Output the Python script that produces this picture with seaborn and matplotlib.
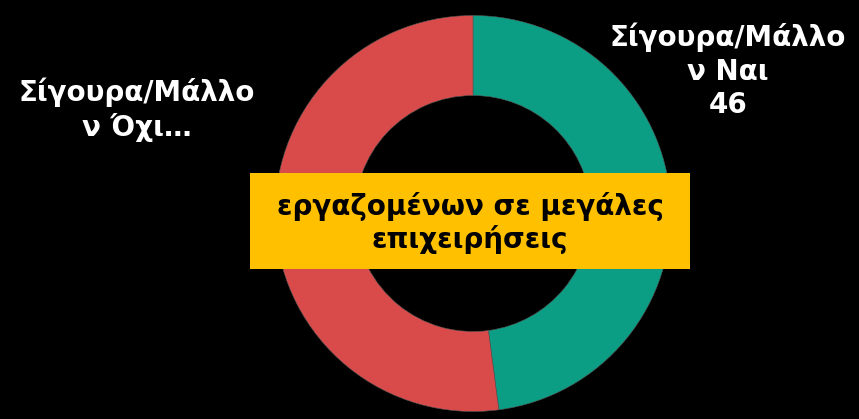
import matplotlib
matplotlib.use("Agg")
import matplotlib.pyplot as plt
import seaborn as sns

# ── data ─────────────────────────────────────────────────────────────
categories = ["Σίγουρα/Μάλλον Ναι", "Σίγουρα/Μάλλον Όχι"]
values = [46, 50]
labels = ["Σίγουρα/Μάλλο\nν Ναι\n46", "Σίγουρα/Μάλλο\nν Όχι…"]
center_title = "εργαζομένων σε μεγάλες\nεπιχειρήσεις"

colors = ["#0B9E84", "#D94B4B"]

sns.set_theme(style="white")
plt.rcParams["font.family"] = ["DejaVu Sans"]

W, H = 859, 419
fig = plt.figure(figsize=(W / 100, H / 100), dpi=100, facecolor="black")
ax = fig.add_axes([0, 0, 1, 1])
ax.set_facecolor("black")

ax.pie(
    values, colors=colors, startangle=90, counterclock=False,
    radius=198, center=(473, H - 213.5),
    wedgeprops=dict(width=80, edgecolor="#555555", linewidth=0.4),
)
ax.set_xlim(0, W)
ax.set_ylim(0, H)
ax.set_aspect("equal")
ax.axis("off")

# slice labels
ax.text(728, H - 71, labels[0], ha="center", va="center", color="white",
        fontsize=20, fontweight="bold", linespacing=1.25)
ax.text(137, H - 110, labels[1], ha="center", va="center", color="white",
        fontsize=20, fontweight="bold", linespacing=1.25)

# centre title box
ax.add_patch(plt.Rectangle((250, H - 269), 440, 96, facecolor="#FFC000",
                           edgecolor="none", zorder=3))
ax.text(470, H - 223, center_title, ha="center", va="center", color="black",
        fontsize=20, fontweight="bold", linespacing=1.2, zorder=4)

fig.savefig("out.png", dpi=100, facecolor="black")
